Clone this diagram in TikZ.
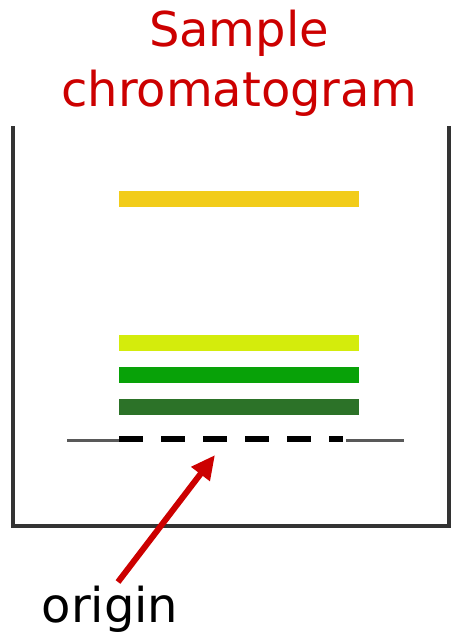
\documentclass[tikz,border=0pt]{standalone}
\usepackage{fontspec}
\setmainfont{DejaVu Sans}
\usetikzlibrary{arrows.meta}
\definecolor{titlered}{HTML}{CC0000}
\definecolor{bandyellow}{HTML}{F2CC1A}
\definecolor{bandlime}{HTML}{D4EC0C}
\definecolor{bandgreen}{HTML}{08A208}
\definecolor{banddark}{HTML}{2C7228}
\definecolor{wallgray}{HTML}{333333}
\tikzset{
  band/.style={fill=#1, draw=none},
  wall/.style={draw=wallgray, line width=3.5pt},
  startline/.style={draw=gray!70!black, line width=2.5pt},
  dashline/.style={draw=black, line width=6pt, dash pattern=on 24pt off 18pt},
  pointer/.style={draw=titlered, line width=6pt, -{Triangle[length=24pt,width=22pt]}},
  label/.style={inner sep=0pt, anchor=base, font=\fontsize{48}{58}\selectfont}
}
\begin{document}
\begin{tikzpicture}[x=1pt,y=-1pt]
\useasboundingbox (0,0) rectangle (460,634);
% tank walls
\draw[wall] (13,126) -- (13,526) -- (449,526) -- (449,126);
% separated bands
\fill[band=bandyellow] (119,191) rectangle (359,207);
\fill[band=bandlime] (119,335) rectangle (359,351);
\fill[band=bandgreen] (119,367) rectangle (359,383);
\fill[band=banddark] (119,399) rectangle (359,415);
% origin line
\draw[startline] (67,440.5) -- (123,440.5);
\draw[startline] (346,440.5) -- (404,440.5);
\draw[dashline] (119,439) -- (343,439);
% title
\node[label, text=titlered] (title1) at (239,47) {Sample};
\node[label, text=titlered] (title2) at (239,106) {chromatogram};
% label and pointer
\node[label] (origin) at (110,622) {origin};
\coordinate (tip) at (215,455);
\draw[pointer] (118,582) -- (tip);
\end{tikzpicture}
\end{document}
